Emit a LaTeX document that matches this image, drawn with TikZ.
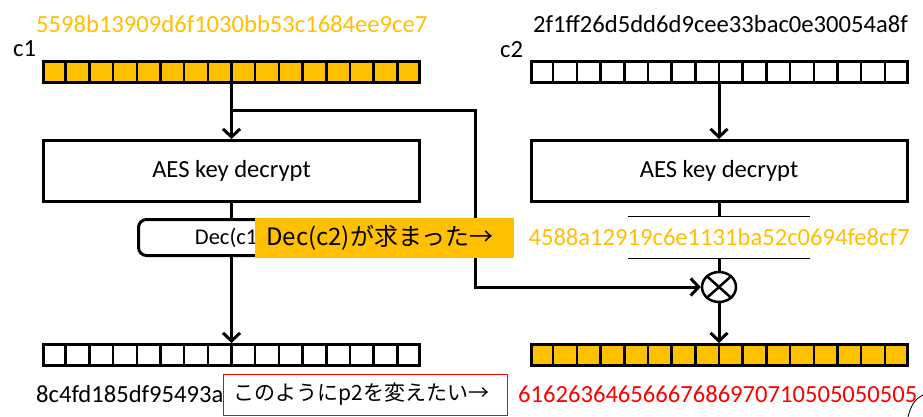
\documentclass[tikz,border=0pt]{standalone}
\usepackage{fontspec}
\setmainfont{Carlito}
\newfontfamily\jp{Noto Sans CJK JP}
\usetikzlibrary{arrows.meta,calc,shapes.geometric}
\definecolor{gold}{HTML}{FFC000}
\begin{document}
\begin{tikzpicture}[x=1pt,y=-1pt,
  reg/.style={draw, line width=3pt, minimum width=376, minimum height=21, inner sep=0},
  box/.style={draw, line width=3pt, minimum width=376, minimum height=61, inner sep=0, font=\fontsize{24.6}{28}\selectfont},
  txt/.style={inner sep=0, font=\fontsize{24.6}{28}\selectfont, anchor=base west},
  conn/.style={line width=3pt},
  arr/.style={line width=3pt, -{Straight Barb[length=8pt,width=17pt]}},
  cellline/.style={line width=2.5pt}
]
\useasboundingbox (0,0) rectangle (923,417);

% texts above registers
\node[txt, text=gold] (hexa) at (36,33) {5598b13909d6f1030bb53c1684ee9ce7};
\node[txt] (lc1) at (13,57) {c1};
\node[txt] (hexb) at (533,33) {2f1ff26d5dd6d9cee33bac0e30054a8f};
\node[txt] (lc2) at (500,58) {c2};

% registers
\node[reg, fill=gold] (c1reg) at (231.5,72) {};
\node[reg] (c2reg) at (719,72) {};
\node[reg] (p1reg) at (231.5,355) {};
\node[reg, fill=gold] (p2reg) at (719,355) {};
\foreach \r in {c1reg,c2reg,p1reg,p2reg}{
  \foreach \i in {1,...,15}{
    \draw[cellline] ($(\r.south west)!\i/16!(\r.south east)$) -- ($(\r.north west)!\i/16!(\r.north east)$);
  }
}

% AES boxes
\node[box] (aes1) at (231.5,171) {AES key decrypt};
\node[box] (aes2) at (719,171) {AES key decrypt};

% Dec(c1)
\node[draw, line width=3pt, rounded corners=8pt, minimum width=182, minimum height=36, inner sep=0,
      font=\fontsize{22.5}{26}\selectfont] (dec1) at (229.5,237.5) {Dec(c1)};

% Dec(c2) value
\node[inner sep=0, minimum height=41, text=gold, font=\fontsize{24.6}{28}\selectfont] (mid2) at (719,237.5) {4588a12919c6e1131ba52c0694fe8cf7};
\draw[line width=0.8pt] ([xshift=-91]mid2.north) -- ([xshift=91]mid2.north)
                        ([xshift=-91]mid2.south) -- ([xshift=91]mid2.south);

% XOR
\node[ellipse, draw, line width=2.5pt, minimum width=34, minimum height=30, inner sep=0] (xor) at (719,287) {};
\draw[line width=2.5pt] (xor.north west) -- (xor.south east) (xor.north east) -- (xor.south west);

% bottom texts
\node[txt] (hexc) at (36,402) {8c4fd185df95493a};
\node[txt, text=red] (hexd) at (518,402) {61626364656667686970710505050505};

% connectors
\coordinate (b1) at (475,111);
\coordinate (b2) at (b1 |- xor.west);
\draw[arr] (c1reg.south) -- (aes1.north);
\draw[arr] (c1reg.south |- b1) -- (b1) -- (b2) -- (xor.west);
\draw[conn] (aes1.south) -- (aes1.south |- dec1.north);
\draw[arr] (aes1.south |- dec1.south) -- (p1reg.north);
\draw[arr] (c2reg.south) -- (aes2.north);
\draw[conn] (aes2.south) -- (mid2.north);
\draw[conn] (mid2.south) -- (xor.north);
\draw[arr] (xor.south) -- (p2reg.north);

% overlay notes
\node[fill=gold, anchor=west, minimum height=40, inner xsep=11, inner ysep=0, text width=237, align=left,
      font=\jp\fontsize{24}{27}\selectfont] (note1) at (255,238) {Dec(c2)が求まった→};
\node[draw=red, line width=1pt, fill=white, anchor=west, minimum height=41, inner xsep=10, inner ysep=0,
      text width=264, align=left, font=\jp\fontsize{21}{24}\selectfont] (note2) at (223,394.5) {このようにp2を変えたい→};

% stray stroke at bottom right
\draw[line width=0.8pt] (908,417) .. controls (911,405) and (915,399) .. (923,395);
\end{tikzpicture}
\end{document}
